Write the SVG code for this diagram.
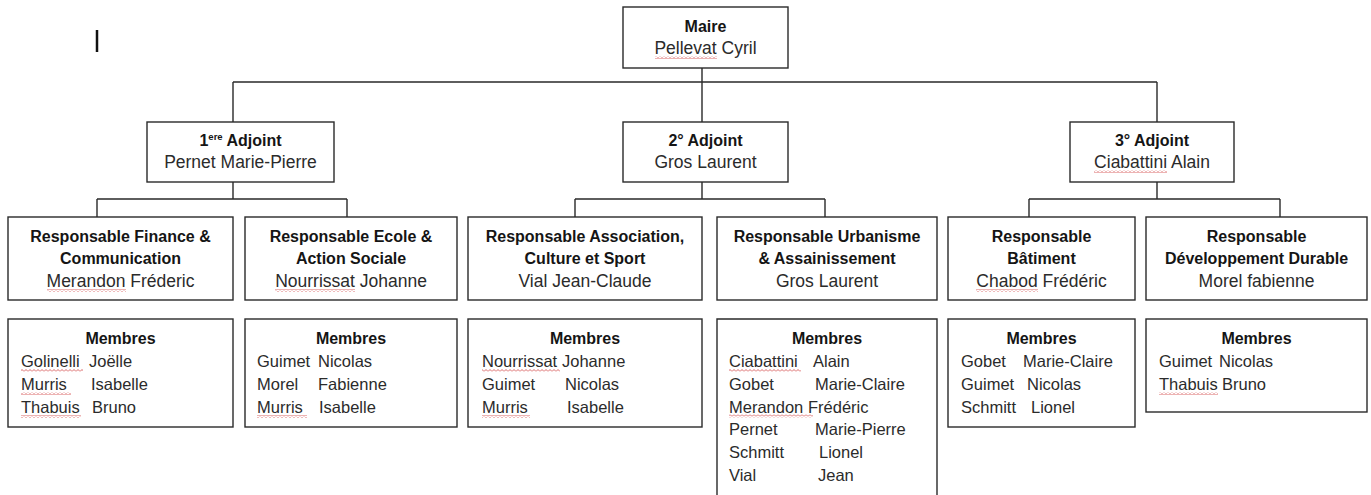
<svg xmlns="http://www.w3.org/2000/svg" width="1371" height="495" viewBox="0 0 1371 495">
<defs>
<pattern id="sq" x="0" y="0" width="4" height="3" patternUnits="userSpaceOnUse">
<path d="M0 2.5 L2 0.5 L4 2.5" fill="none" stroke="#d04040" stroke-width="0.8"/>
</pattern>
</defs>
<style>
.box{fill:#fff;stroke:#2a2a2a;stroke-width:1.4}
.con{fill:none;stroke:#2a2a2a;stroke-width:1.4}
.b{font-family:"Liberation Sans",Arial,sans-serif;font-weight:bold;font-size:16px;fill:#151515;text-anchor:middle}
.n{font-family:"Liberation Sans",Arial,sans-serif;font-size:17.5px;fill:#2b2b2b;text-anchor:middle}
.m{font-family:"Liberation Sans",Arial,sans-serif;font-size:16.5px;fill:#2b2b2b}
.sq{fill:url(#sq)}
</style>
<rect width="1371" height="495" fill="#fff"/>
<line x1="97" y1="30" x2="97" y2="52" stroke="#111" stroke-width="2.5"/>

<g id="connectors">
<path class="con" d="M702 68 V82 M233 82 H1157 M233 82 V122 M702 82 V122 M1157 82 V122"/>
<path class="con" d="M233 182 V199 M97 199 H347 M97 199 V217 M347 199 V217"/>
<path class="con" d="M702 182 V199 M575 199 H825 M575 199 V217 M825 199 V217"/>
<path class="con" d="M1157 182 V199 M1029 199 H1280 M1029 199 V217 M1280 199 V217"/>
</g>

<g id="maire">
<rect class="box" x="623" y="7" width="165" height="61"/>
<text class="b" x="705.5" y="32">Maire</text>
<text class="n" x="705.5" y="54">Pellevat Cyril</text>
<rect class="sq" x="655" y="56" width="62" height="3"/>
</g>

<g id="adjoint1">
<rect class="box" x="147" y="122" width="187" height="60"/>
<text class="b" x="240.5" y="146">1<tspan font-size="9.5" dy="-6">ere</tspan><tspan dy="6"> Adjoint</tspan></text>
<text class="n" x="240.5" y="168">Pernet Marie-Pierre</text>
</g>

<g id="adjoint2">
<rect class="box" x="623" y="122" width="165" height="60"/>
<text class="b" x="705.5" y="146">2° Adjoint</text>
<text class="n" x="705.5" y="168">Gros Laurent</text>
</g>

<g id="adjoint3">
<rect class="box" x="1070" y="122" width="164" height="60"/>
<text class="b" x="1152" y="146">3° Adjoint</text>
<text class="n" x="1152" y="168">Ciabattini Alain</text>
<rect class="sq" x="1094" y="170" width="73" height="3"/>
</g>

<g id="resp-finance">
<rect class="box" x="8" y="217" width="225" height="83"/>
<text class="b" x="120.5" y="242">Responsable Finance &amp;</text>
<text class="b" x="120.5" y="264">Communication</text>
<text class="n" x="120.5" y="287">Merandon Fréderic</text>
<rect class="sq" x="47" y="289" width="79" height="3"/>
</g>

<g id="resp-ecole">
<rect class="box" x="245" y="217" width="212" height="83"/>
<text class="b" x="351" y="242">Responsable Ecole &amp;</text>
<text class="b" x="351" y="264">Action Sociale</text>
<text class="n" x="351" y="287">Nourrissat Johanne</text>
<rect class="sq" x="275" y="289" width="80" height="3"/>
</g>

<g id="resp-association">
<rect class="box" x="468" y="217" width="234" height="83"/>
<text class="b" x="585" y="242">Responsable Association,</text>
<text class="b" x="585" y="264">Culture et Sport</text>
<text class="n" x="585" y="287">Vial Jean-Claude</text>
</g>

<g id="resp-urbanisme">
<rect class="box" x="717" y="217" width="220" height="83"/>
<text class="b" x="827" y="242">Responsable Urbanisme</text>
<text class="b" x="827" y="264">&amp; Assainissement</text>
<text class="n" x="827" y="287">Gros Laurent</text>
</g>

<g id="resp-batiment">
<rect class="box" x="948" y="217" width="187" height="83"/>
<text class="b" x="1041.5" y="242">Responsable</text>
<text class="b" x="1041.5" y="264">Bâtiment</text>
<text class="n" x="1041.5" y="287">Chabod Frédéric</text>
<rect class="sq" x="976" y="289" width="62" height="3"/>
</g>

<g id="resp-developpement">
<rect class="box" x="1146" y="217" width="221" height="83"/>
<text class="b" x="1256.5" y="242">Responsable</text>
<text class="b" x="1256.5" y="264">Développement Durable</text>
<text class="n" x="1256.5" y="287">Morel fabienne</text>
</g>

<g id="membres-finance">
<rect class="box" x="8" y="319" width="225" height="108"/>
<text class="b" x="120.5" y="344">Membres</text>
<text class="m" x="21" y="367">Golinelli</text><text class="m" x="89" y="367">Joëlle</text>
<text class="m" x="21" y="390">Murris</text><text class="m" x="91" y="390">Isabelle</text>
<text class="m" x="21" y="413">Thabuis</text><text class="m" x="92" y="413">Bruno</text>
<rect class="sq" x="21" y="369" width="62" height="3"/>
<rect class="sq" x="21" y="392" width="50" height="3"/>
<rect class="sq" x="21" y="415" width="60" height="3"/>
</g>

<g id="membres-ecole">
<rect class="box" x="245" y="319" width="212" height="108"/>
<text class="b" x="351" y="344">Membres</text>
<text class="m" x="257" y="367">Guimet</text><text class="m" x="318" y="367">Nicolas</text>
<text class="m" x="257" y="390">Morel</text><text class="m" x="318" y="390">Fabienne</text>
<text class="m" x="257" y="413">Murris</text><text class="m" x="319" y="413">Isabelle</text>
<rect class="sq" x="257" y="415" width="50" height="3"/>
</g>

<g id="membres-association">
<rect class="box" x="468" y="319" width="234" height="108"/>
<text class="b" x="585" y="344">Membres</text>
<text class="m" x="482" y="367">Nourrissat</text><text class="m" x="562" y="367">Johanne</text>
<text class="m" x="482" y="390">Guimet</text><text class="m" x="565" y="390">Nicolas</text>
<text class="m" x="482" y="413">Murris</text><text class="m" x="567" y="413">Isabelle</text>
<rect class="sq" x="482" y="369" width="78" height="3"/>
<rect class="sq" x="482" y="415" width="48" height="3"/>
</g>

<g id="membres-urbanisme">
<path class="box" d="M717 497 V319 H937 V497"/>
<text class="b" x="827" y="344">Membres</text>
<text class="m" x="729" y="367">Ciabattini</text><text class="m" x="813" y="367">Alain</text>
<text class="m" x="729" y="390">Gobet</text><text class="m" x="815" y="390">Marie-Claire</text>
<text class="m" x="729" y="412.5">Merandon</text><text class="m" x="808" y="412.5">Frédéric</text>
<text class="m" x="729" y="435">Pernet</text><text class="m" x="815" y="435">Marie-Pierre</text>
<text class="m" x="729" y="458">Schmitt</text><text class="m" x="819" y="458">Lionel</text>
<text class="m" x="729" y="480.5">Vial</text><text class="m" x="818" y="480.5">Jean</text>
<rect class="sq" x="729" y="369" width="72" height="3"/>
<rect class="sq" x="729" y="414.5" width="84" height="3"/>
</g>

<g id="membres-batiment">
<rect class="box" x="948" y="319" width="187" height="108"/>
<text class="b" x="1041.5" y="344">Membres</text>
<text class="m" x="961" y="367">Gobet</text><text class="m" x="1023" y="367">Marie-Claire</text>
<text class="m" x="961" y="390">Guimet</text><text class="m" x="1027" y="390">Nicolas</text>
<text class="m" x="961" y="413">Schmitt</text><text class="m" x="1031" y="413">Lionel</text>
</g>

<g id="membres-developpement">
<rect class="box" x="1146" y="319" width="221" height="93"/>
<text class="b" x="1256.5" y="344">Membres</text>
<text class="m" x="1159" y="367">Guimet</text><text class="m" x="1219" y="367">Nicolas</text>
<text class="m" x="1159" y="390">Thabuis</text><text class="m" x="1222" y="390">Bruno</text>
<rect class="sq" x="1159" y="392" width="59" height="3"/>
</g>
</svg>
